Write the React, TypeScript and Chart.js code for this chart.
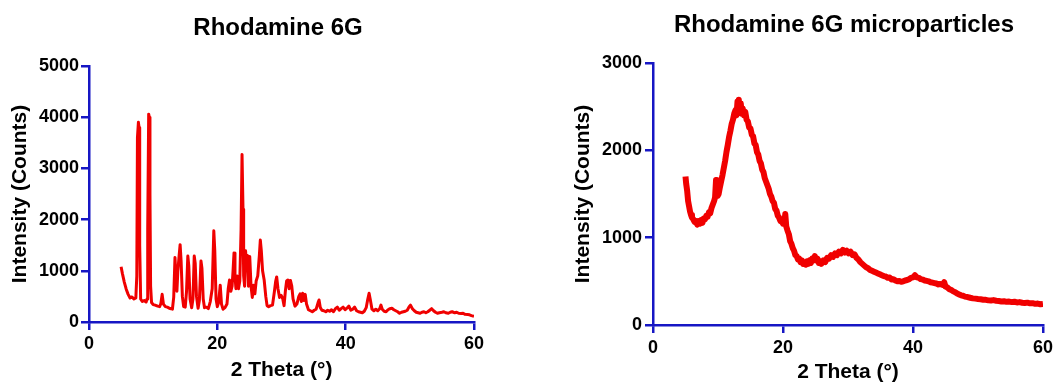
import React, { useEffect, useRef } from "react";
import { Chart, registerables } from "chart.js";

Chart.register(...registerables);

// ---------- Data: Rhodamine 6G (left) ----------
const r6gTheta = [
  5.0, 5.2, 5.5, 5.8, 6.1, 6.4, 6.7, 7.0, 7.3, 7.45, 7.55, 7.7, 7.8, 7.9, 8.05, 8.3, 8.6, 8.9,
  9.05, 9.15, 9.3, 9.4, 9.5, 9.6, 9.75, 10.0, 10.3, 10.7, 11.0, 11.2, 11.4, 11.6, 11.9, 12.2,
  12.5, 12.8, 13.0, 13.2, 13.4, 13.55, 13.7, 13.85, 14.05, 14.2, 14.35, 14.55, 14.75, 15.0,
  15.2, 15.4, 15.55, 15.75, 16.0, 16.2, 16.4, 16.55, 16.75, 17.0, 17.2, 17.45, 17.6, 17.8,
  18.0, 18.3, 18.6, 18.9, 19.2, 19.45, 19.6, 19.8, 20.0, 20.2, 20.45, 20.65, 20.9, 21.2, 21.5,
  21.7, 21.9, 22.1, 22.3, 22.45, 22.6, 22.75, 22.9, 23.1, 23.3, 23.5, 23.7, 23.85, 24.0, 24.1,
  24.25, 24.4, 24.55, 24.7, 24.85, 25.05, 25.25, 25.45, 25.65, 25.85, 26.05, 26.3, 26.55, 26.7,
  26.85, 27.05, 27.3, 27.55, 27.75, 28.0, 28.3, 28.6, 28.9, 29.1, 29.25, 29.45, 29.7, 29.95,
  30.2, 30.4, 30.6, 30.8, 31.0, 31.2, 31.4, 31.6, 31.8, 32.1, 32.4, 32.7, 32.9, 33.1, 33.3,
  33.5, 33.7, 33.9, 34.2, 34.5, 34.8, 35.1, 35.4, 35.7, 35.85, 36.05, 36.3, 36.6, 36.9, 37.2,
  37.5, 37.8, 38.1, 38.4, 38.7, 39.0, 39.3, 39.6, 39.9, 40.2, 40.5, 40.8, 41.1, 41.4, 41.7,
  42.0, 42.3, 42.6, 42.9, 43.2, 43.45, 43.65, 43.85, 44.1, 44.4, 44.7, 45.0, 45.3, 45.5, 45.7,
  46.0, 46.3, 46.6, 46.9, 47.2, 47.5, 47.8, 48.1, 48.4, 48.7, 49.0, 49.3, 49.6, 49.9, 50.1,
  50.4, 50.7, 51.0, 51.3, 51.6, 51.9, 52.2, 52.5, 52.8, 53.1, 53.4, 53.7, 54.0, 54.3, 54.6,
  55.0, 55.3, 55.6, 56.0, 56.3, 56.6, 57.0, 57.3, 57.6, 58.0, 58.3, 58.6, 59.0, 59.3, 59.6, 60.0,
];
const r6gCounts = [
  1080, 950, 780, 640, 540, 470, 490, 450, 470, 900, 3600, 3900, 3800, 1500, 450, 400, 420, 390,
  450, 1800, 4060, 4000, 2500, 700, 380, 340, 330, 310, 300, 360, 540, 350, 300, 290,
  270, 260, 250, 480, 1260, 900, 600, 1000, 1300, 1510, 1200, 500, 300, 290,
  600, 1290, 1100, 450, 280, 450, 1290, 1150, 500, 270, 420, 1190, 1050, 450,
  280, 290, 260, 400, 650, 1780, 1400, 450, 300, 380, 720, 350, 250, 280, 350,
  650, 820, 600, 700, 1000, 1350, 900, 650, 900, 650, 800, 1800, 3270, 2200, 900,
  700, 1390, 1100, 1300, 700, 1280, 700, 480, 720, 550, 800, 900, 1300, 1600,
  1400, 1000, 820, 500, 320, 300, 320, 330, 600, 800, 880, 650, 480, 520,
  450, 320, 600, 800, 820, 650, 810, 700, 450, 310, 350, 500, 550, 400, 560,
  420, 540, 350, 240, 220, 200, 230, 250, 380, 430, 280, 230, 220, 200, 230,
  210, 240, 200, 260, 290, 230, 260, 290, 240, 270, 310, 230, 250, 290, 220,
  200, 190, 180, 210, 280, 450, 560, 430, 250, 220, 250, 220, 260, 330, 250,
  210, 200, 240, 260, 270, 240, 220, 200, 170, 190, 200, 210, 230, 300, 330,
  260, 220, 190, 180, 170, 190, 200, 180, 200, 230, 260, 220, 190, 170, 180,
  190, 200, 180, 170, 190, 200, 180, 190, 170, 165, 170, 150, 145, 140, 125, 110,
];

// ---------- Data: Rhodamine 6G microparticles (right) ----------
const mpTheta = [
  5.0, 5.1, 5.25, 5.4, 5.55, 5.7, 5.85, 6.0, 6.2, 6.4, 6.6, 6.8, 7.0, 7.2, 7.4, 7.6, 7.8, 8.0,
  8.2, 8.4, 8.6, 8.8, 9.0, 9.2, 9.4, 9.55, 9.7, 9.8, 9.95, 10.1, 10.3, 10.5, 10.7, 10.9, 11.1,
  11.3, 11.5, 11.7, 11.9, 12.1, 12.3, 12.5, 12.7, 12.85, 13.0, 13.1, 13.2, 13.35, 13.5, 13.65,
  13.8, 14.0, 14.2, 14.4, 14.6, 14.8, 15.0, 15.2, 15.4, 15.6, 15.8, 16.0, 16.2, 16.4, 16.6,
  16.8, 17.0, 17.2, 17.4, 17.6, 17.8, 18.0, 18.2, 18.4, 18.6, 18.8, 19.0, 19.2, 19.4, 19.6,
  19.8, 20.0, 20.2, 20.35, 20.5, 20.7, 20.9, 21.1, 21.3, 21.5, 21.7, 21.9, 22.1, 22.3, 22.5,
  22.7, 22.9, 23.1, 23.3, 23.5, 23.7, 23.9, 24.1, 24.3, 24.5, 24.7, 24.9, 25.1, 25.3, 25.5,
  25.7, 25.9, 26.2, 26.5, 26.8, 27.1, 27.4, 27.7, 28.0, 28.3, 28.6, 28.9, 29.2, 29.5, 29.8,
  30.1, 30.4, 30.7, 31.0, 31.3, 31.6, 31.9, 32.2, 32.5, 32.8, 33.1, 33.4, 33.7, 34.0, 34.3,
  34.6, 34.9, 35.2, 35.5, 35.8, 36.1, 36.4, 36.7, 37.0, 37.3, 37.6, 37.9, 38.2, 38.5, 38.8,
  39.1, 39.4, 39.7, 40.0, 40.3, 40.6, 40.9, 41.2, 41.5, 41.8, 42.1, 42.4, 42.7, 43.0, 43.3,
  43.6, 43.9, 44.2, 44.5, 44.8, 45.0, 45.3, 45.6, 45.9, 46.2, 46.5, 46.8, 47.1, 47.4, 47.7,
  48.0, 48.4, 48.8, 49.2, 49.6, 50.0, 50.4, 50.8, 51.2, 51.6, 52.0, 52.4, 52.8, 53.2, 53.6,
  54.0, 54.4, 54.8, 55.2, 55.6, 56.0, 56.4, 56.8, 57.2, 57.6, 58.0, 58.4, 58.8, 59.2, 59.6, 60.0,
];
const mpCounts = [
  1700, 1620, 1540, 1420, 1360, 1300, 1260, 1230, 1210, 1180, 1190, 1150, 1190, 1160, 1200, 1170, 1220, 1210,
  1250, 1240, 1290, 1280, 1340, 1380, 1420, 1460, 1660, 1520, 1480, 1500, 1580, 1650, 1720, 1800, 1880,
  1980, 2060, 2150, 2220, 2300, 2350, 2420, 2460, 2400, 2560, 2450, 2580, 2470, 2540, 2420,
  2480, 2400, 2440, 2350, 2330, 2260, 2250, 2180, 2160, 2080, 2060, 1980, 1950, 1880, 1850,
  1780, 1750, 1680, 1640, 1600, 1560, 1500, 1470, 1420, 1400, 1330, 1310, 1250, 1230, 1190,
  1200, 1160, 1170, 1270, 1130, 1080, 1040, 960, 930, 880, 850, 800, 790, 750, 760,
  720, 740, 700, 720, 690, 730, 700, 740, 710, 760, 740, 790, 740, 760, 710,
  730, 700, 740, 720, 770, 760, 800, 780, 820, 800, 840, 820, 860, 830, 850,
  820, 840, 800, 810, 770, 750, 720, 700, 680, 660, 650, 630, 620, 610, 600,
  590, 580, 570, 560, 555, 540, 545, 520, 525, 510, 500, 505, 495, 500, 510,
  515, 525, 540, 545, 570, 545, 540, 525, 520, 510, 505, 500, 490, 485, 480,
  475, 465, 470, 460, 490, 440, 430, 410, 400, 385, 375, 360, 350, 340, 335,
  325, 320, 312, 305, 302, 298, 295, 290, 288, 282, 280, 285, 278, 275, 270,
  272, 265, 268, 262, 266, 258, 262, 255, 252, 256, 248, 250, 242, 245, 238, 242,
];

const xTicksMax = 60;
const leftYMax = 5000;
const rightYMax = 3000;
const leftTitle = "Rhodamine 6G";
const rightTitle = "Rhodamine 6G microparticles";
const xAxisTitle = "2 Theta (°)";
const yAxisTitle = "Intensity (Counts)";

const FONT = "'Liberation Sans', Arial, sans-serif";
const AXIS_BLUE = "#1616c4";
const LINE_RED = "#f00000";

const titlePlugin = {
  id: "customTitle",
  afterDraw(chart: any, _args: any, opts: any) {
    const { ctx } = chart;
    ctx.save();
    ctx.font = `bold ${opts.size}px ${FONT}`;
    ctx.fillStyle = "#000";
    ctx.textAlign = "center";
    ctx.textBaseline = "alphabetic";
    ctx.fillText(opts.text, opts.x, opts.y);
    ctx.restore();
  },
};

type PanelProps = {
  theta: number[];
  counts: number[];
  yMax: number;
  title: string;
  width: number;
  left: number;
  cfg: {
    yWidth: number;
    xHeight: number;
    padTop: number;
    padRight: number;
    yTitlePad: number;
    xTitlePad: number;
    yTickPad: number;
    xTickPad: number;
    titleX: number;
    titleY: number;
    lineWidth: number;
  };
};

function Panel({ theta, counts, yMax, title, width, left, cfg }: PanelProps) {
  const ref = useRef<HTMLCanvasElement | null>(null);
  useEffect(() => {
    if (!ref.current) return;
    const points = theta.map((t, i) => ({ x: t, y: counts[i] }));
    const tickFont = { family: FONT, size: 18, weight: "bold" as const };
    const titleFont = { family: FONT, size: 21, weight: "bold" as const };
    const chart = new Chart(ref.current, {
      type: "line",
      data: {
        datasets: [
          {
            data: points,
            borderColor: LINE_RED,
            borderWidth: cfg.lineWidth,
            borderJoinStyle: "round",
            pointRadius: 0,
            tension: 0,
            fill: false,
          },
        ],
      },
      plugins: [titlePlugin],
      options: {
        responsive: false,
        animation: false,
        layout: { padding: { top: cfg.padTop, right: cfg.padRight, left: 0, bottom: 0 } },
        plugins: {
          legend: { display: false },
          tooltip: { enabled: false },
          title: { display: false },
          customTitle: { text: title, x: cfg.titleX, y: cfg.titleY, size: 24 },
        } as any,
        scales: {
          x: {
            type: "linear",
            min: 0,
            max: xTicksMax,
            afterFit: (s: any) => {
              s.height = cfg.xHeight;
            },
            ticks: {
              stepSize: 20,
              color: "#000",
              font: tickFont,
              padding: cfg.xTickPad,
              maxRotation: 0,
              callback: (v: any) => String(v),
            },
            grid: {
              display: true,
              drawOnChartArea: false,
              drawTicks: true,
              tickLength: 8,
              color: AXIS_BLUE,
              lineWidth: 2.5,
            },
            border: { display: true, color: AXIS_BLUE, width: 2.5 },
            title: {
              display: true,
              text: xAxisTitle,
              color: "#000",
              font: titleFont,
              padding: { top: 0, bottom: cfg.xTitlePad },
            },
          },
          y: {
            type: "linear",
            min: 0,
            max: yMax,
            afterFit: (s: any) => {
              s.width = cfg.yWidth;
            },
            ticks: {
              stepSize: 1000,
              color: "#000",
              font: tickFont,
              padding: cfg.yTickPad,
              callback: (v: any) => String(v),
            },
            grid: {
              display: true,
              drawOnChartArea: false,
              drawTicks: true,
              tickLength: 8,
              color: AXIS_BLUE,
              lineWidth: 2.5,
            },
            border: { display: true, color: AXIS_BLUE, width: 2.5 },
            title: {
              display: true,
              text: yAxisTitle,
              color: "#000",
              font: titleFont,
              padding: { top: cfg.yTitlePad, bottom: 0 },
            },
          },
        },
      } as any,
    });
    return () => chart.destroy();
  }, []);
  return (
    <canvas
      ref={ref}
      width={width}
      height={385}
      style={{ position: "absolute", left, top: 0, width, height: 385 }}
    />
  );
}

export default function App() {
  return (
    <div style={{ position: "absolute", left: 0, top: 0, width: 1057, height: 385, background: "#fff" }}>
      <Panel
        theta={r6gTheta}
        counts={r6gCounts}
        yMax={leftYMax}
        title={leftTitle}
        width={540}
        left={0}
        cfg={{
          yWidth: 89,
          xHeight: 63,
          padTop: 66,
          padRight: 66,
          yTitlePad: 8,
          xTitlePad: 2,
          yTickPad: 2,
          xTickPad: 3,
          titleX: 278,
          titleY: 35,
          lineWidth: 3,
        }}
      />
      <Panel
        theta={mpTheta}
        counts={mpCounts}
        yMax={rightYMax}
        title={rightTitle}
        width={517}
        left={540}
        cfg={{
          yWidth: 113,
          xHeight: 60,
          padTop: 63,
          padRight: 13,
          yTitlePad: 31,
          xTitlePad: 0,
          yTickPad: 3,
          xTickPad: 4,
          titleX: 304,
          titleY: 32,
          lineWidth: 6,
        }}
      />
    </div>
  );
}
